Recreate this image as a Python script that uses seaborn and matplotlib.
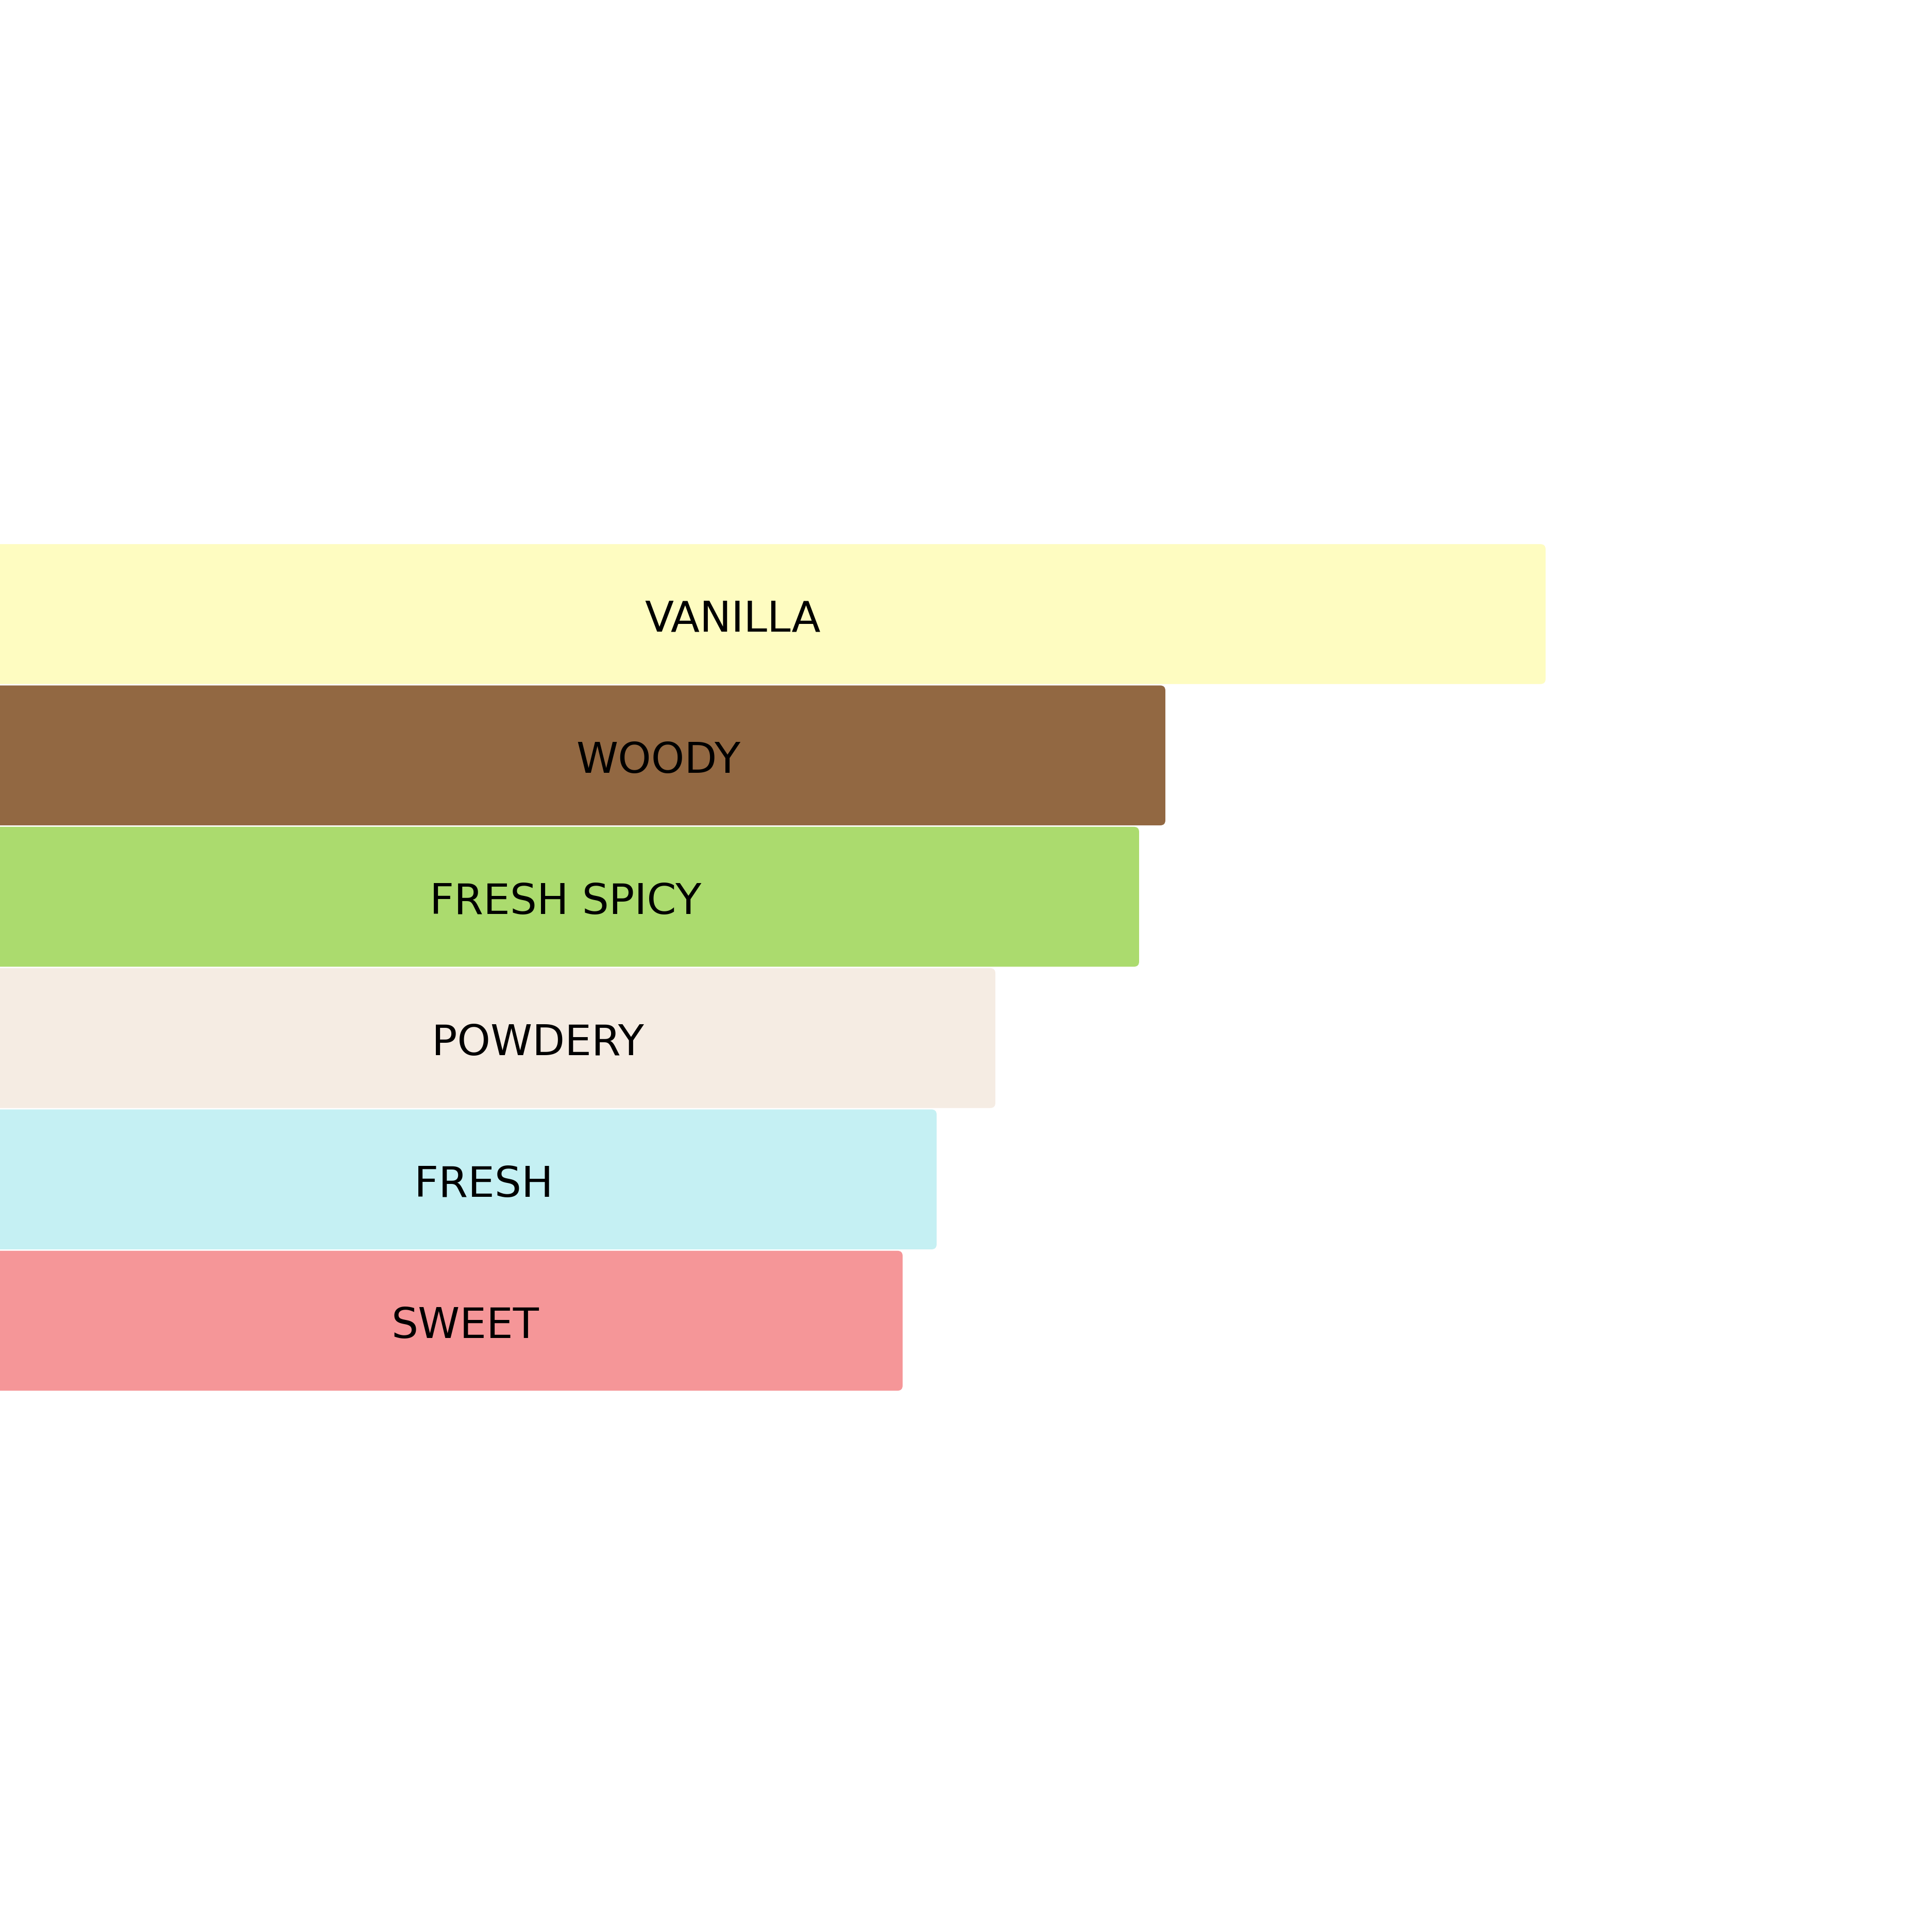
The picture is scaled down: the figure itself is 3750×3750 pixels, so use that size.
import matplotlib
matplotlib.use("Agg")
import matplotlib.pyplot as plt
import pandas as pd
import seaborn as sns
from matplotlib.patches import FancyBboxPatch

# accords, top to bottom
accords = ["VANILLA", "WOODY", "FRESH SPICY", "POWDERY", "FRESH", "SWEET"]
strength = [100.0, 75.4, 73.7, 64.4, 60.6, 58.4]
label_x = [47.4, 42.6, 36.6, 34.8, 31.3, 30.1]
colors = ["#FEFCC1", "#926842", "#ABDB6E", "#F5ECE3", "#C5F0F3", "#F59698"]

df = pd.DataFrame({"accord": accords, "strength": strength})

sns.set_theme(style="white")
plt.rcParams["font.family"] = ["DejaVu Sans"]

fig = plt.figure(figsize=(12.5, 12.5), dpi=300)
ax = fig.add_axes([0, 0, 1, 1])

sns.barplot(data=df, x="strength", y="accord", hue="accord", palette=colors,
            saturation=1, orient="h", width=0.99, legend=False, ax=ax)

ax.set_xlim(0, 125)
ax.set_ylim(9.325, -4.345)

# swap the square bars for slightly rounded ones
x_per_px = 125 / 3750
y_per_px = 13.67 / 3750
for bar in list(ax.patches):
    x, y = bar.get_x(), bar.get_y()
    w, h = bar.get_width(), bar.get_height()
    fc = bar.get_facecolor()
    bar.remove()
    ax.add_patch(FancyBboxPatch((x - 1, y), w + 1, h,
                                boxstyle="round,pad=0,rounding_size=%f" % (10 * x_per_px),
                                mutation_aspect=y_per_px / x_per_px,
                                facecolor=fc, edgecolor="none"))

for i, name in enumerate(accords):
    ax.text(label_x[i], i + 0.04, name, ha="center", va="center",
            fontsize=19.7, color="black")

ax.axis("off")
fig.savefig("out.png", dpi=300, facecolor="white")
